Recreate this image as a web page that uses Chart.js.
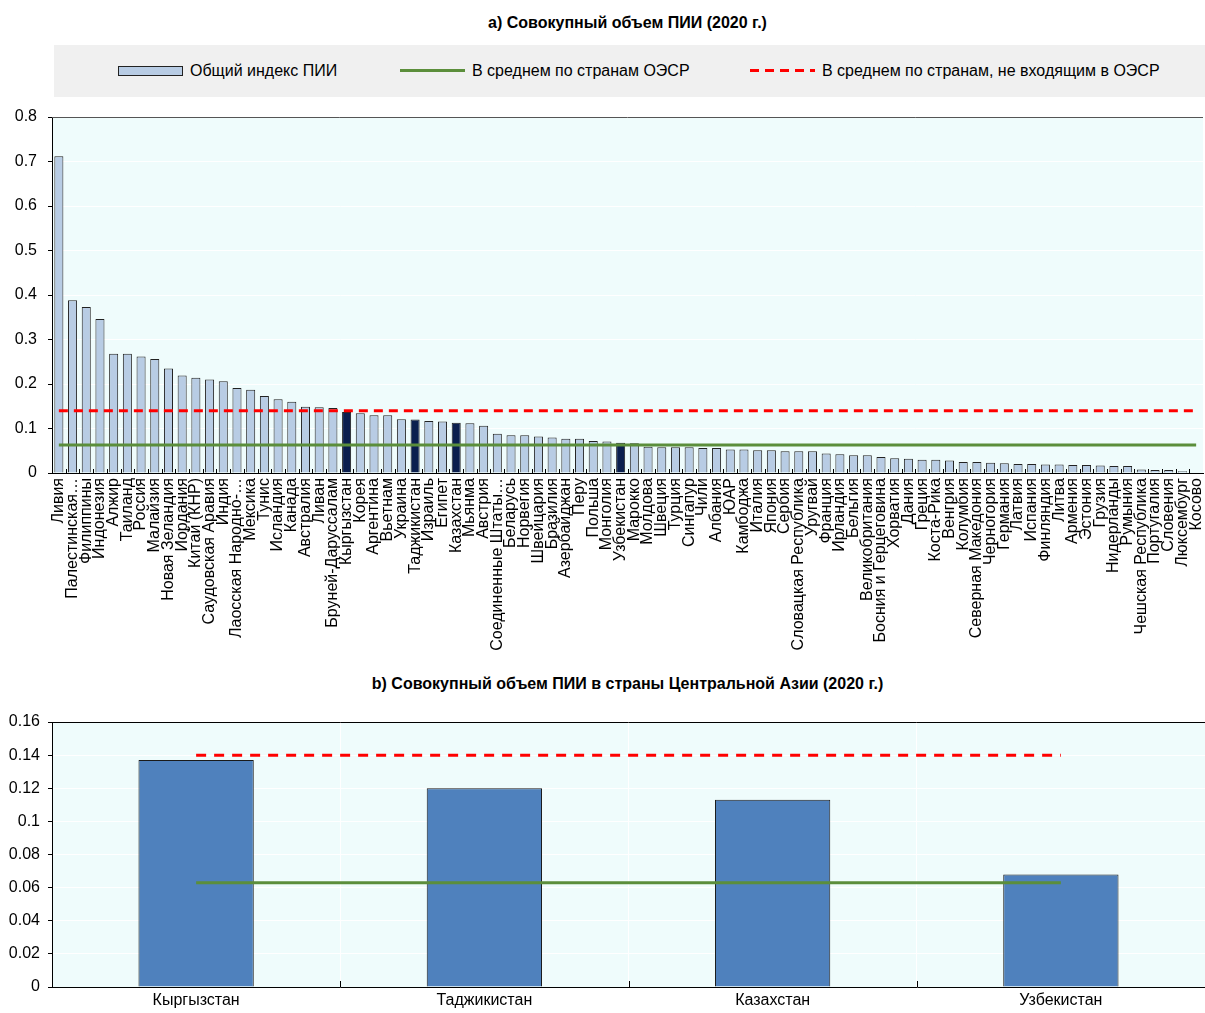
<!DOCTYPE html>
<html lang="ru">
<head>
<meta charset="utf-8">
<title>Совокупный объем ПИИ (2020 г.)</title>
<script src="https://cdn.jsdelivr.net/npm/chart.js@4.4.1/dist/chart.umd.min.js"></script>
<style>
  html, body { margin: 0; padding: 0; background: #fff; width: 1205px; height: 1013px; overflow: hidden; }
  body { position: relative; font-family: 'Liberation Sans Narrow', 'Liberation Sans', Arial, sans-serif; color: #000; }
  .title { position: absolute; left: 52px; width: 1151px; text-align: center; font-weight: bold; font-size: 16px; }
  #titleA { top: 14px; }
  #titleB { top: 675px; }
  #legend { position: absolute; left: 54px; top: 45px; width: 1151px; height: 52px; background: #f0f0f0; font-size: 16px; }
  .item { position: absolute; top: 16px; height: 20px; line-height: 20px; white-space: nowrap; }
  .sw { position: absolute; }
  #boxA { position: absolute; left: 0; top: 0; }
  #boxB { position: absolute; left: 0; top: 655px; }
</style>
</head>
<body>
<div class="title" id="titleA">a) Совокупный объем ПИИ (2020 г.)</div>
<div id="legend">
  <div class="sw" style="left:64px;top:21px;width:63px;height:8px;background:#b8cce4;border:1px solid #222;"></div>
  <div class="item" style="left:136px;">Общий индекс ПИИ</div>
  <div class="sw" style="left:346px;top:24px;width:65px;height:3px;background:#5b8e3b;"></div>
  <div class="item" style="left:418px;">В среднем по странам ОЭСР</div>
  <div class="sw" style="left:696px;top:24px;width:65px;height:3px;background:repeating-linear-gradient(90deg,#ff0000 0 9px,transparent 9px 15px);"></div>
  <div class="item" style="left:768px;">В среднем по странам, не входящим в ОЭСР</div>
</div>
<div id="boxA"><canvas id="chartA" width="1205" height="655"></canvas></div>
<div class="title" id="titleB">b) Совокупный объем ПИИ в страны Центральной Азии (2020 г.)</div>
<div id="boxB"><canvas id="chartB" width="1205" height="358"></canvas></div>

<script>
// ---- Panel a: all economies ----
const categories = [
  'Ливия', 'Палестинская…', 'Филиппины', 'Индонезия', 'Алжир', 'Таиланд', 'Россия',
  'Малайзия', 'Новая Зеландия', 'Иордания', 'Китай (КНР)', 'Саудовская Аравия', 'Индия',
  'Лаосская Народно-…', 'Мексика', 'Тунис', 'Исландия', 'Канада', 'Австралия', 'Ливан',
  'Бруней-Даруссалам', 'Кыргызстан', 'Корея', 'Аргентина', 'Вьетнам', 'Украина',
  'Таджикистан', 'Израиль', 'Египет', 'Казахстан', 'Мьянма', 'Австрия',
  'Соединенные Штаты…', 'Беларусь', 'Норвегия', 'Швейцария', 'Бразилия', 'Азербайджан',
  'Перу', 'Польша', 'Монголия', 'Узбекистан', 'Марокко', 'Молдова', 'Швеция', 'Турция',
  'Сингапур', 'Чили', 'Албания', 'ЮАР', 'Камбоджа', 'Италия', 'Япония', 'Сербия',
  'Словацкая Республика', 'Уругвай', 'Франция', 'Ирландия', 'Бельгия', 'Великобритания',
  'Босния и Герцеговина', 'Хорватия', 'Дания', 'Греция', 'Коста-Рика', 'Венгрия',
  'Колумбия', 'Северная Македония', 'Черногория', 'Германия', 'Латвия', 'Испания',
  'Финляндия', 'Литва', 'Армения', 'Эстония', 'Грузия', 'Нидерланды', 'Румыния',
  'Чешская Республика', 'Португалия', 'Словения', 'Люксембург', 'Косово'
];
const fdiIndex = [
  0.712, 0.388, 0.373, 0.346, 0.268, 0.268, 0.262,
  0.256, 0.235, 0.219, 0.214, 0.210, 0.206,
  0.191, 0.187, 0.173, 0.166, 0.160, 0.149, 0.148,
  0.146, 0.137, 0.134, 0.130, 0.130, 0.121,
  0.120, 0.117, 0.116, 0.113, 0.112, 0.106,
  0.088, 0.085, 0.085, 0.082, 0.080, 0.077,
  0.077, 0.072, 0.071, 0.068, 0.067, 0.059, 0.058, 0.058,
  0.058, 0.056, 0.056, 0.053, 0.053, 0.051, 0.051, 0.049,
  0.049, 0.049, 0.044, 0.042, 0.040, 0.040,
  0.036, 0.033, 0.032, 0.030, 0.030, 0.028,
  0.025, 0.025, 0.023, 0.022, 0.020, 0.020,
  0.019, 0.019, 0.018, 0.018, 0.017, 0.016, 0.016,
  0.008, 0.007, 0.007, 0.004, 0.001
];
const centralAsia = ['Кыргызстан', 'Таджикистан', 'Казахстан', 'Узбекистан'];
const oecdAverage = 0.063;
const nonOecdAverage = 0.140;
const yTicksA = [0, 0.1, 0.2, 0.3, 0.4, 0.5, 0.6, 0.7, 0.8];

// ---- Panel b: Central Asia ----
const regionCategories = ['Кыргызстан', 'Таджикистан', 'Казахстан', 'Узбекистан'];
const regionValues = [0.137, 0.120, 0.113, 0.068];
const yTicksB = [0, 0.02, 0.04, 0.06, 0.08, 0.1, 0.12, 0.14, 0.16];

const FONT = "'Liberation Sans Narrow', 'Liberation Sans', Arial, sans-serif";
const PLOT_BG = '#effcfc';
const LIGHT_BAR = '#b8cce4';
const DARK_BAR = '#0b1f4f';
const REGION_BAR = '#4f81bd';
const GREEN = '#5b8e3b';
const RED = '#ff0000';

Chart.defaults.font.family = FONT;
Chart.defaults.color = '#000';

const fmt = v => String(+(+v).toFixed(2));

// Plot background, top frame line and short inward category ticks on the x axis
const plotFrame = {
  id: 'plotFrame',
  beforeDraw(chart) {
    const { ctx, chartArea: a } = chart;
    ctx.save();
    ctx.fillStyle = PLOT_BG;
    ctx.fillRect(a.left, a.top, a.right - a.left, a.bottom - a.top);
    ctx.restore();
  },
  afterDatasetsDraw(chart, args, opts) {
    const { ctx, chartArea: a } = chart;
    const xs = chart.scales.x;
    const n = xs.getLabels().length;
    const step = (xs.right - xs.left) / n;
    ctx.save();
    ctx.strokeStyle = opts.frameColor || '#444';
    ctx.lineWidth = 1;
    ctx.beginPath();
    ctx.moveTo(a.left, a.top + 0.5);
    ctx.lineTo(a.right, a.top + 0.5);
    ctx.stroke();
    ctx.strokeStyle = '#000';
    ctx.beginPath();
    for (let i = 1; i < n; i++) {
      const x = Math.round(xs.left + step * i) + 0.5;
      ctx.moveTo(x, a.bottom);
      ctx.lineTo(x, a.bottom - opts.tick);
    }
    ctx.stroke();
    ctx.restore();
  }
};

function yScale(ticks, width, pad, size) {
  return {
    min: ticks[0],
    max: ticks[ticks.length - 1],
    afterBuildTicks: s => { s.ticks = ticks.map(v => ({ value: v })); },
    afterFit: s => { s.width = width; },
    border: { display: true, color: '#000', width: 1 },
    grid: {
      color: '#ffffff',
      lineWidth: 1,
      drawTicks: true,
      tickLength: 4,
      tickColor: '#000'
    },
    ticks: { callback: fmt, padding: pad, font: { size: size }, color: '#000' }
  };
}

new Chart(document.getElementById('chartA'), {
  type: 'bar',
  data: {
    labels: categories,
    datasets: [
      {
        type: 'line',
        label: 'В среднем по странам ОЭСР',
        data: categories.map(() => oecdAverage),
        borderColor: GREEN,
        borderWidth: 3,
        pointRadius: 0,
        order: 1
      },
      {
        type: 'line',
        label: 'В среднем по странам, не входящим в ОЭСР',
        data: categories.map(() => nonOecdAverage),
        borderColor: RED,
        borderWidth: 3,
        borderDash: [9, 6],
        pointRadius: 0,
        order: 0
      },
      {
        label: 'Общий индекс ПИИ',
        data: fdiIndex,
        backgroundColor: categories.map(c => centralAsia.includes(c) ? DARK_BAR : LIGHT_BAR),
        borderColor: '#222',
        borderWidth: 1,
        barPercentage: 0.66,
        categoryPercentage: 1,
        order: 2
      }
    ]
  },
  options: {
    responsive: false,
    animation: false,
    devicePixelRatio: 1,
    layout: { padding: { top: 117, right: 2, left: 0, bottom: 0 } },
    plugins: {
      legend: { display: false },
      tooltip: { enabled: false },
      plotFrame: { tick: 4, frameColor: '#555' }
    },
    scales: {
      x: {
        afterFit: s => { s.height = 182; s.paddingLeft = 0; s.paddingRight = 0; },
        border: { display: true, color: '#000', width: 1 },
        grid: { display: false },
        ticks: {
          autoSkip: false,
          maxRotation: 90,
          minRotation: 90,
          padding: -3,
          font: { size: 16 },
          color: '#000'
        }
      },
      y: yScale(yTicksA, 52, 11, 16)
    }
  },
  plugins: [plotFrame]
});

new Chart(document.getElementById('chartB'), {
  type: 'bar',
  data: {
    labels: regionCategories,
    datasets: [
      {
        type: 'line',
        label: 'В среднем по странам ОЭСР',
        data: regionCategories.map(() => oecdAverage),
        borderColor: GREEN,
        borderWidth: 3,
        pointRadius: 0,
        order: 1
      },
      {
        type: 'line',
        label: 'В среднем по странам, не входящим в ОЭСР',
        data: regionCategories.map(() => nonOecdAverage),
        borderColor: RED,
        borderWidth: 3,
        borderDash: [10, 8],
        pointRadius: 0,
        order: 0
      },
      {
        label: 'Общий индекс ПИИ',
        data: regionValues,
        backgroundColor: REGION_BAR,
        borderColor: '#1a1a1a',
        borderWidth: 1,
        barPercentage: 0.4,
        categoryPercentage: 1,
        order: 2
      }
    ]
  },
  options: {
    responsive: false,
    animation: false,
    devicePixelRatio: 1,
    layout: { padding: { top: 67, right: 0, left: 0, bottom: 0 } },
    plugins: {
      legend: { display: false },
      tooltip: { enabled: false },
      plotFrame: { tick: 6, frameColor: '#000' }
    },
    scales: {
      x: {
        afterFit: s => { s.height = 26; s.paddingLeft = 0; s.paddingRight = 0; },
        border: { display: true, color: '#000', width: 1 },
        grid: { display: true, drawOnChartArea: true, drawTicks: false, color: '#ffffff', offset: true },
        ticks: { padding: 4, font: { size: 16 }, color: '#000' }
      },
      y: yScale(yTicksB, 52, 8, 16)
    }
  },
  plugins: [plotFrame]
});
</script>
</body>
</html>
